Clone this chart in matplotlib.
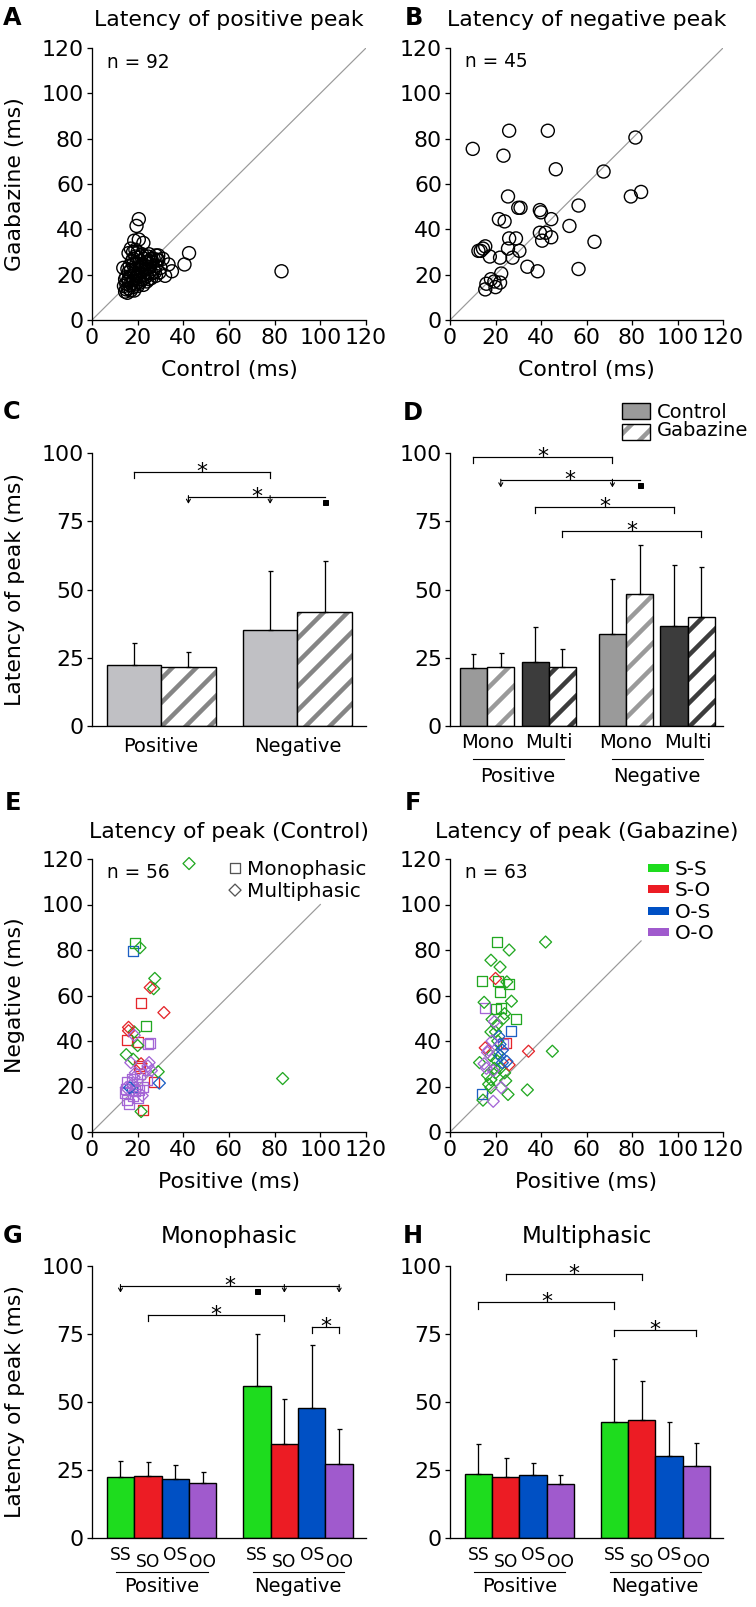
import numpy as np
import matplotlib
matplotlib.use('Agg')
import matplotlib.pyplot as plt
from matplotlib.patches import Rectangle
from matplotlib.transforms import blended_transform_factory

# ---- data ----

# A: latency of positive peak, control vs gabazine (n = 92)
a_control = [20.5, 19.5, 18.5, 20.5, 22.5, 17, 18, 13.7, 42.5, 40.5, 35, 32, 33.5, 30, 28, 26,
             83, 25, 29, 27.5, 31, 14.5, 15, 15.5, 16, 14, 15, 16.5, 17, 17.5, 18, 16, 15, 17,
             18, 19, 19.5, 18.5, 17, 16, 20, 21, 20.5, 22, 19, 18, 17.5, 19.5, 21, 22, 23, 23.5,
             24, 25, 22.5, 21, 20, 19, 18, 23, 24, 25.5, 26, 27, 28, 26.5, 24.5, 22, 20, 19, 21.5,
             16.5, 15.5, 14.5, 16, 18.5, 20, 21, 22.5, 24, 23, 25, 26, 28, 29.5, 27, 28.5, 25,
             29, 16, 21.5, 23.5]
a_gabazine = [44.5, 41.5, 35, 35.5, 34, 31.5, 30, 23, 29.5, 24.5, 21.5, 19.5, 24.5, 23, 28.5, 27,
              21.5, 26, 26.5, 21, 27, 12.5, 13.5, 12, 14, 15, 16, 15.5, 13, 16, 14.5, 18, 19, 19.5,
              17.5, 16, 18.5, 20.5, 22, 21, 20, 19, 17, 18, 22.5, 24.5, 26, 25, 23, 21.5, 20, 22.5,
              19.5, 21, 24.5, 26, 27.5, 28, 27, 27, 25, 23.5, 20.5, 22.5, 24, 25.5, 28, 29, 30, 31,
              28, 24, 22.5, 18, 17, 13, 15, 16.5, 15.5, 17, 18.5, 18, 18.5, 19.5, 21, 27, 26.5, 29,
              28.5, 29.5, 24, 25.5]

# B: latency of negative peak, control vs gabazine (n = 45)
b_control = [10, 26, 43, 23.5, 46.5, 67.5, 81.5, 79.5, 84, 25.5, 30, 31, 56.5, 39.5, 40, 21.5,
             24, 44.5, 52.5, 63.5, 39.5, 42, 40.5, 44.5, 26, 29, 25.5, 30.5, 15.5, 12.5, 13.5,
             14.5, 17.5, 22, 27.5, 34, 38.5, 56.5, 22.5, 18, 19.5, 16, 15.5, 20, 22]
b_gabazine = [75.5, 83.5, 83.5, 72.5, 66.5, 65.5, 80.5, 54.5, 56.5, 54.5, 49.5, 49.5, 50.5, 48.5,
              47.5, 44.5, 43.5, 44.5, 41.5, 34.5, 38.5, 38.5, 35, 36.5, 36, 36, 31.5, 30.5, 32.5,
              30.5, 30.5, 31.5, 28, 27.5, 27.5, 23.5, 21.5, 22.5, 20.5, 18, 17, 16, 13.5, 14.5, 16.5]

# C: mean + SD latency of peak
c_groups = ['Positive', 'Negative']
c_control_mean = [22.2, 35.2]
c_control_sd = [8.2, 21.6]
c_gabazine_mean = [21.6, 41.9]
c_gabazine_sd = [5.4, 18.6]

# D: order per polarity = mono ctrl, mono gab, multi ctrl, multi gab
d_phases = ['Mono', 'Multi']
d_groups = ['Positive', 'Negative']
d_mean = [21.1, 21.6, 23.6, 21.6, 33.6, 48.4, 36.6, 40.0]
d_sd = [5.3, 5.0, 12.6, 6.5, 20.1, 17.9, 22.3, 18.1]

# E / F: positive vs negative latency per unit
e_pos = [42.5, 83.5, 19, 18, 21, 27.5, 27, 25.5, 21.5, 31.5, 23.5, 16, 16, 18.5, 15.5, 18.5, 20,
         25.5, 24.5, 20, 15, 18, 17, 21.5, 21, 25, 23.5, 29, 26, 27, 29.5, 22.5, 21.5, 15.5, 15,
         15.5, 16, 18, 20.5, 19.5, 17.5, 22.5, 21, 19, 17.5, 17.5, 16.5, 22, 19, 15, 20, 18.5,
         24, 24.5, 14.5, 20.5]
e_neg = [118, 23.5, 83, 79.5, 81, 67.5, 63, 63.5, 56.5, 52.5, 46.5, 46, 44.5, 44, 40.5, 42.5, 39.5,
         39, 38.5, 38, 34, 32, 30.5, 30, 28, 30.5, 27, 26.5, 27, 22, 21.5, 9.5, 9, 22, 19, 14,
         12.5, 16, 18.5, 21, 23.5, 20, 25.5, 26, 21, 20, 19.5, 16, 18, 19.5, 15, 24, 23, 29, 17, 29]
e_phase = ['multi', 'multi', 'mono', 'mono', 'multi', 'multi', 'multi', 'multi', 'mono', 'multi',
           'mono', 'multi', 'multi', 'multi', 'mono', 'multi', 'mono', 'mono', 'mono', 'multi',
           'multi', 'multi', 'multi', 'multi', 'mono', 'multi', 'multi', 'multi', 'multi', 'mono',
           'multi', 'mono', 'multi', 'mono', 'mono', 'mono', 'mono', 'mono', 'mono', 'mono', 'mono',
           'mono', 'mono', 'multi', 'multi', 'mono', 'multi', 'multi', 'mono', 'multi', 'mono',
           'multi', 'mono', 'multi', 'mono', 'mono']
e_pair = ['SS', 'SS', 'SS', 'OS', 'SS', 'SS', 'SS', 'SO', 'SO', 'SO', 'SS', 'SO', 'SO', 'SS', 'SO',
          'OO', 'SO', 'OO', 'OO', 'SS', 'SS', 'SS', 'OO', 'SO', 'SO', 'OO', 'OO', 'SS', 'OO', 'SO',
          'OS', 'SO', 'SS', 'OO', 'OO', 'OO', 'OO', 'OO', 'OO', 'OO', 'OO', 'OO', 'OO', 'OO', 'OO',
          'OS', 'OS', 'OO', 'OO', 'OO', 'OO', 'OO', 'OO', 'OO', 'OO', 'SO']

f_pos = [42, 20.5, 26, 18, 22, 20, 14, 21, 25, 26, 22, 27, 15, 15.5, 22.5, 18.5, 23.5, 29, 19.5,
         20.5, 27, 18, 21.5, 21, 34.5, 45, 23.5, 22, 15.5, 16.5, 18, 22, 26, 25, 13, 15, 16, 19.5,
         19, 18, 24.5, 17, 22.5, 34, 25.5, 14, 14.5, 19, 18, 20.5, 20, 24, 20, 17, 23, 21, 16.5,
         22, 24, 18.5, 20, 24.5, 23]
f_neg = [83.5, 83.5, 80, 75.5, 72.5, 67.5, 66.5, 66.5, 66, 65, 61.5, 57.5, 57, 54.5, 54.5, 49.5,
         50, 49.5, 48.5, 47, 44.5, 44, 42, 40, 35.5, 35.5, 38.5, 38.5, 37, 35, 33.5, 33.5, 29.5,
         31, 30.5, 30, 28, 28, 27, 23, 22.5, 21, 19.5, 18.5, 16.5, 16.5, 14, 13.5, 19.5, 31.5, 26,
         52, 54, 36, 36, 34.5, 25, 28, 26, 40, 44, 39, 30.5]
f_phase = ['multi', 'mono', 'multi', 'multi', 'multi', 'multi', 'mono', 'mono', 'multi', 'mono',
           'mono', 'multi', 'multi', 'mono', 'mono', 'multi', 'multi', 'mono', 'multi', 'multi',
           'mono', 'multi', 'multi', 'multi', 'multi', 'multi', 'mono', 'multi', 'multi', 'multi',
           'multi', 'multi', 'multi', 'multi', 'multi', 'multi', 'multi', 'multi', 'multi', 'multi',
           'multi', 'multi', 'multi', 'multi', 'multi', 'mono', 'multi', 'multi', 'multi', 'multi',
           'multi', 'multi', 'mono', 'multi', 'multi', 'multi', 'multi', 'multi', 'multi', 'multi',
           'multi', 'mono', 'multi']
f_pair = ['SS', 'SS', 'SS', 'SS', 'SS', 'SO', 'SS', 'SS', 'SS', 'SS', 'SS', 'SS', 'SS', 'OO', 'SS',
          'SS', 'SS', 'SS', 'OO', 'SS', 'OS', 'SS', 'OS', 'SS', 'SO', 'SS', 'OO', 'OS', 'SO', 'OO',
          'SS', 'OS', 'SO', 'OS', 'SS', 'OO', 'OO', 'SS', 'OO', 'SS', 'SS', 'SS', 'OO', 'SS', 'SS',
          'OS', 'SS', 'OO', 'SS', 'SS', 'SS', 'SS', 'SS', 'OO', 'OS', 'SS', 'SS', 'SS', 'SS', 'OO',
          'SS', 'SO', 'OS']

# G / H: order per polarity = SS, SO, OS, OO
pair_labels = ['SS', 'SO', 'OS', 'OO']
pair_names = ['S-S', 'S-O', 'O-S', 'O-O']
g_mean = [22.4, 22.8, 21.5, 20.0, 55.9, 34.4, 47.8, 27.2]
g_sd = [5.8, 5.1, 5.4, 4.1, 19.1, 16.5, 23.1, 12.7]
h_mean = [23.3, 22.4, 23.0, 19.7, 42.5, 43.4, 30.0, 26.5]
h_sd = [11.2, 6.8, 4.6, 3.3, 23.2, 14.4, 12.7, 8.2]

# significance brackets: (first bar, last bar, level, arrow bars, square bar)
c_sig = [(0, 2, 93.0, [], None), (1, 3, 84.0, [1, 2], 3)]
d_sig = [(0, 4, 98.6, [], None), (1, 5, 90.0, [1, 4], 5),
         (2, 6, 80.3, [], None), (3, 7, 71.4, [], None)]
g_sig = [(0, 7, 92.8, [0, 5, 7], 4), (1, 5, 82.0, [], None), (6, 7, 77.7, [], None)]
h_sig = [(1, 5, 97.0, [], None), (0, 4, 86.6, [], None), (4, 7, 76.4, [], None)]

# ---- styling ----
W, H = 756, 1607
plt.rcParams['font.family'] = ['DejaVu Sans']
plt.rcParams['hatch.linewidth'] = 4.5
fig = plt.figure(figsize=(W / 72, H / 72), dpi=72)

pair_colors = {'SS': '#22a822', 'SO': '#e5262b', 'OS': '#1d5fc4', 'OO': '#a466d6'}
bar_colors = ['#1edc1e', '#ec1c24', '#0050c4', '#a05acd']
diag_color = '#9a9a9a'


def box(l, t, r, b):
    return fig.add_axes([l / W, 1 - b / H, (r - l) / W, (b - t) / H])


def ftext(x, y, s, **kw):
    kw.setdefault('fontsize', 22)
    kw.setdefault('ha', 'center')
    kw.setdefault('va', 'baseline')
    fig.text(x / W, 1 - y / H, s, **kw)


def style(ax, ymax, ystep):
    ax.spines[['top', 'right']].set_visible(False)
    for s in ['left', 'bottom']:
        ax.spines[s].set_linewidth(1.3)
    ax.tick_params(direction='out', length=5, width=1.3, labelsize=22, pad=3)
    ax.set_ylim(0, ymax)
    ax.set_yticks(np.arange(0, ymax + 1, ystep))


def scatter_style(ax):
    style(ax, 120, 20)
    ax.set_xlim(0, 120)
    ax.set_xticks(np.arange(0, 121, 20))


def hatched(ax, x, h, color, width=1.0):
    ax.bar(x, h, width=width, color='white', edgecolor=color, hatch='/', linewidth=0)
    ax.bar(x, h, width=width, fill=False, edgecolor='k', linewidth=1.4)


def errs(ax, x, mean, sd):
    ax.errorbar(x, mean, yerr=[np.zeros(len(sd)), sd], fmt='none', ecolor='k',
                elinewidth=1.3, capsize=2.5, capthick=1.3, zorder=3)


def brackets(ax, xs, specs, drop=2.3):
    for i0, i1, y, arrows, square in specs:
        x0, x1 = xs[i0], xs[i1]
        ax.plot([x0, x1], [y, y], color='k', lw=1.2, clip_on=False)
        for i in (i0, i1):
            if i in arrows or i == square:
                continue
            ax.plot([xs[i], xs[i]], [y, y - drop], color='k', lw=1.2, clip_on=False)
        for i in arrows:
            ax.annotate('', xy=(xs[i], y - drop - 0.3), xytext=(xs[i], y + 0.4),
                        arrowprops=dict(arrowstyle='->,head_length=0.35,head_width=0.2',
                                        lw=1.1, color='k', shrinkA=0, shrinkB=0))
        if square is not None:
            ax.plot(xs[square], y - 1.9, 's', ms=5, color='k', clip_on=False)
        ax.annotate('*', xy=((x0 + x1) / 2, y), xytext=(0, -6), textcoords='offset points',
                    ha='center', va='baseline', fontsize=22)


def group_labels(ax, xs, labels, y, size=19.5):
    tr = blended_transform_factory(ax.transData, fig.transFigure)
    for x, s in zip(xs, labels):
        ax.text(x, 1 - y / H, s, transform=tr, ha='center', va='baseline', fontsize=size)


def underline(ax, x0, x1, y):
    tr = blended_transform_factory(ax.transData, fig.transFigure)
    ax.plot([x0, x1], [1 - y / H] * 2, transform=tr, color='k', lw=1.1, clip_on=False)


def phase_scatter(ax, pos, neg, phase, pair):
    pos, neg = np.array(pos), np.array(neg)
    phase, pair = np.array(phase), np.array(pair)
    for ph, marker, size in [('mono', 's', 10 ** 2), ('multi', 'D', 8.5 ** 2)]:
        for p in pair_labels:
            m = (phase == ph) & (pair == p)
            ax.scatter(pos[m], neg[m], marker=marker, s=size, facecolors='none',
                       edgecolors=pair_colors[p], linewidths=1.3, clip_on=False, zorder=3)


# ---- A ----
ax = box(92, 48, 366, 320)
scatter_style(ax)
ax.plot([0, 120], [0, 120], color=diag_color, lw=1.2, zorder=1)
ax.scatter(a_control, a_gabazine, s=13 ** 2, facecolors='none', edgecolors='k',
           linewidths=1.4, clip_on=False, zorder=3)
ax.text(0.055, 0.926, 'n = %d' % len(a_control), transform=ax.transAxes, fontsize=18.5)
ftext(229, 26, 'Latency of positive peak')
ftext(229, 376, 'Control (ms)')
ftext(15, 184, 'Gaabazine (ms)', rotation=90, va='center')

# ---- B ----
ax = box(450, 48, 723, 320)
scatter_style(ax)
ax.plot([0, 120], [0, 120], color=diag_color, lw=1.2, zorder=1)
ax.scatter(b_control, b_gabazine, s=13 ** 2, facecolors='none', edgecolors='k',
           linewidths=1.4, clip_on=False, zorder=3)
ax.text(0.055, 0.93, 'n = %d' % len(b_control), transform=ax.transAxes, fontsize=18.5)
ftext(586.5, 26, 'Latency of negative peak')
ftext(586.5, 376, 'Control (ms)')

# ---- C ----
ax = box(92, 453, 366, 726)
style(ax, 100, 25)
ax.set_xlim(-0.27, 4.76)
ax.set_xticks([])
cx = np.array([0.5, 3.0])
ax.bar(cx, c_control_mean, width=1, color='#c0c0c4', edgecolor='k', linewidth=1.4)
hatched(ax, cx + 1, c_gabazine_mean, '#858585')
errs(ax, cx, c_control_mean, c_control_sd)
errs(ax, cx + 1, c_gabazine_mean, c_gabazine_sd)
c_all = [cx[0], cx[0] + 1, cx[1], cx[1] + 1]
brackets(ax, c_all, c_sig)
group_labels(ax, cx + 0.5, c_groups, 752)
ftext(15, 589.5, 'Latency of peak (ms)', rotation=90, va='center')

# ---- D ----
ax = box(450, 453, 723, 726)
style(ax, 100, 25)
ax.set_xlim(0, 10)
ax.set_xticks([])
dx = np.array([g + o for g in (0.86, 5.95) for o in (0, 1, 2.26, 3.26)])
shade = ['#9a9a9a', '#9a9a9a', '#3c3c3c', '#3c3c3c'] * 2
for i in range(8):
    if i % 2 == 0:
        ax.bar(dx[i], d_mean[i], width=1, color=shade[i], edgecolor='k', linewidth=1.4)
    else:
        hatched(ax, dx[i], d_mean[i], shade[i])
errs(ax, dx, d_mean, d_sd)
brackets(ax, dx, d_sig)
pair_mid = [(dx[i] + dx[i + 1]) / 2 for i in range(0, 8, 2)]
group_labels(ax, pair_mid, d_phases * 2, 748)
for k in range(2):
    underline(ax, dx[4 * k], dx[4 * k + 3] + 0.05, 759)
group_labels(ax, [(dx[0] + dx[3]) / 2, (dx[4] + dx[7]) / 2], d_groups, 782)
# legend
ax.add_patch(Rectangle((0.63, 1.125), 0.103, 0.058, transform=ax.transAxes, clip_on=False,
                       facecolor='#9a9a9a', edgecolor='k', lw=1.4))
ax.add_patch(Rectangle((0.63, 1.048), 0.103, 0.058, transform=ax.transAxes, clip_on=False,
                       facecolor='white', edgecolor='#9a9a9a', hatch='/', lw=0))
ax.add_patch(Rectangle((0.63, 1.048), 0.103, 0.058, transform=ax.transAxes, clip_on=False,
                       fill=False, edgecolor='k', lw=1.4))
ax.text(0.758, 1.128, 'Control', transform=ax.transAxes, fontsize=19.5)
ax.text(0.758, 1.062, 'Gabazine', transform=ax.transAxes, fontsize=19.5)

# ---- E ----
ax = box(92, 859, 366, 1132)
scatter_style(ax)
ax.plot([0, 100], [0, 100], color=diag_color, lw=1.2, zorder=1)
phase_scatter(ax, e_pos, e_neg, e_phase, e_pair)
ax.text(0.055, 0.93, 'n = %d' % len(e_pos), transform=ax.transAxes, fontsize=18.5)
ax.scatter([0.522], [0.967], marker='s', s=10 ** 2, facecolors='none', edgecolors='#555555',
           linewidths=1.3, transform=ax.transAxes, clip_on=False)
ax.scatter([0.522], [0.886], marker='D', s=8.5 ** 2, facecolors='none', edgecolors='#555555',
           linewidths=1.3, transform=ax.transAxes, clip_on=False)
ax.text(0.566, 0.941, 'Monophasic', transform=ax.transAxes, fontsize=20)
ax.text(0.566, 0.861, 'Multiphasic', transform=ax.transAxes, fontsize=20)
ftext(229, 838, 'Latency of peak (Control)')
ftext(229, 1188, 'Positive (ms)')
ftext(15, 995.5, 'Negative (ms)', rotation=90, va='center')

# ---- F ----
ax = box(450, 859, 723, 1132)
scatter_style(ax)
ax.plot([0, 84], [0, 84], color=diag_color, lw=1.2, zorder=1)
phase_scatter(ax, f_pos, f_neg, f_phase, f_pair)
ax.text(0.055, 0.93, 'n = %d' % len(f_pos), transform=ax.transAxes, fontsize=18.5)
for k, (p, name) in enumerate(zip(pair_labels, pair_names)):
    yl = [0.967, 0.890, 0.810, 0.733][k]
    ax.plot([0.725, 0.802], [yl, yl], transform=ax.transAxes, lw=8, color=bar_colors[k],
            solid_capstyle='butt', clip_on=False)
    ax.text(0.824, yl - 0.026, name, transform=ax.transAxes, fontsize=20)
ftext(586.5, 838, 'Latency of peak (Gabazine)')
ftext(586.5, 1188, 'Positive (ms)')

# ---- G / H ----
gx = np.array([1.04, 2.04, 3.04, 4.04, 6.02, 7.02, 8.02, 9.02])
for left, right, mean, sd, sig, title in [(92, 366, g_mean, g_sd, g_sig, 'Monophasic'),
                                          (450, 723, h_mean, h_sd, h_sig, 'Multiphasic')]:
    ax = box(left, 1266, right, 1537.7)
    style(ax, 100, 25)
    ax.set_xlim(0, 10)
    ax.set_xticks([])
    ax.bar(gx, mean, width=1, color=bar_colors * 2, edgecolor='k', linewidth=1.4)
    errs(ax, gx, mean, sd)
    brackets(ax, gx, sig)
    tr = blended_transform_factory(ax.transData, fig.transFigure)
    for i, x in enumerate(gx):
        yb = 1560 if i % 2 == 0 else 1567
        ax.text(x, 1 - yb / H, pair_labels[i % 4], transform=tr, ha='center',
                va='baseline', fontsize=17)
    for k in range(2):
        underline(ax, gx[4 * k] - 0.15, gx[4 * k + 3] + 0.18, 1571.7)
    group_labels(ax, [(gx[0] + gx[3]) / 2, (gx[4] + gx[7]) / 2], ['Positive', 'Negative'], 1592)
    ftext((left + right) / 2, 1243, title, fontsize=23)
ftext(15, 1402, 'Latency of peak (ms)', rotation=90, va='center')

# panel letters
for s, x, y in [('A', 3, 25), ('B', 405, 25), ('C', 3, 419), ('D', 403, 420),
                ('E', 5, 810), ('F', 405, 810), ('G', 3, 1243), ('H', 403, 1243)]:
    ftext(x, y, s, ha='left', fontsize=24, fontweight='bold')

fig.savefig('out.png', dpi=72)
